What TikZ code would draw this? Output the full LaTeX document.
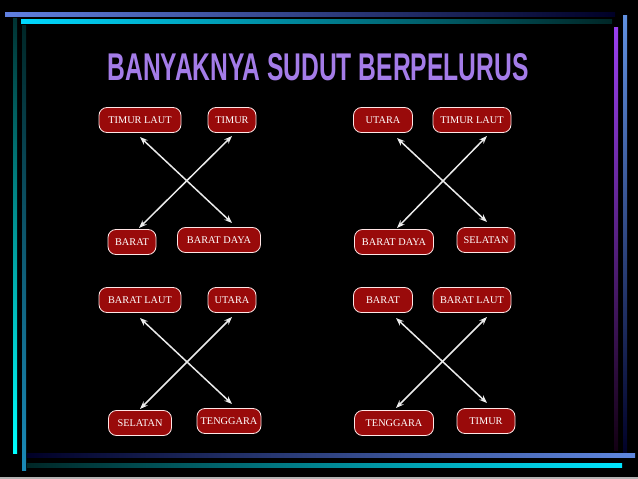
\documentclass[tikz,border=0pt]{standalone}
\usepackage{fontspec}
\usepackage{graphicx}
\setmainfont{Liberation Serif}
\newfontfamily\titlefont{Liberation Sans}
\usetikzlibrary{arrows.meta}
\definecolor{boxred}{HTML}{990A0A}
\definecolor{titlepurple}{HTML}{A47CE8}
\definecolor{topblue}{HTML}{6080E0}
\definecolor{leftblue}{HTML}{1A8AB8}
\definecolor{rightblue}{HTML}{6090E0}
\definecolor{rightpurple}{HTML}{9A40F0}
\definecolor{botblue}{HTML}{6088E0}
\tikzset{
  dirbox/.style={draw=white!90!red, line width=0.8pt, fill=boxred, rounded corners=8pt,
    text=white, font=\fontsize{10.3}{12}\selectfont, minimum height=25pt, inner xsep=3pt, inner ysep=0pt},
  dirarrow/.style={draw=white!92!black, line width=1.5pt,
    {Stealth[length=8pt,width=6pt]}-{Stealth[length=8pt,width=6pt]}},
}
\begin{document}
\begin{tikzpicture}[x=1pt,y=-1pt]
\useasboundingbox (0,0) rectangle (638,479);
\fill[black] (0,0) rectangle (638,479);
\fill[gray!60] (0,476.5) rectangle (638,479);
% frame lines
\shade[left color=topblue, right color=black!85!blue] (5,12) rectangle (615,16);
\shade[left color=cyan!85!blue, right color=black!85!cyan] (21,19) rectangle (612,23);
\shade[top color=black!80!cyan, bottom color=cyan] (13,18) rectangle (17,453);
\shade[top color=black!85!cyan, bottom color=leftblue] (22,25) rectangle (26,470);
\shade[top color=rightblue, bottom color=black!85!blue] (623,15) rectangle (627,455);
\shade[top color=rightpurple, bottom color=black!85!violet] (614,27) rectangle (618,450);
\shade[left color=black!85!blue, right color=botblue] (27,453) rectangle (635,457);
\shade[left color=black!85!cyan, right color=cyan!90!blue] (27,463) rectangle (622,467);
% title
\node[text=titlepurple, inner sep=0pt] (title) at (318,67)
  {\resizebox{421pt}{27pt}{\titlefont\bfseries BANYAKNYA SUDUT BERPELURUS}};
% panel 1
\node[dirbox, minimum width=82pt] (a1) at (140,120) {TIMUR LAUT};
\node[dirbox, minimum width=48pt] (b1) at (232,120) {TIMUR};
\node[dirbox, minimum width=48pt] (c1) at (132,242) {BARAT};
\node[dirbox, minimum width=83pt] (d1) at (219,240) {BARAT DAYA};
\coordinate (a1e) at (140,137); \coordinate (d1e) at (232,223);
\coordinate (c1e) at (139,228); \coordinate (b1e) at (232,136);
\draw[dirarrow] (a1e) -- (d1e);
\draw[dirarrow] (c1e) -- (b1e);
% panel 2
\node[dirbox, minimum width=59pt] (a2) at (383,120) {UTARA};
\node[dirbox, minimum width=78pt] (b2) at (472,120) {TIMUR LAUT};
\node[dirbox, minimum width=79pt] (c2) at (394,242) {BARAT DAYA};
\node[dirbox, minimum width=58pt] (d2) at (486,240) {SELATAN};
\coordinate (a2e) at (397,138); \coordinate (d2e) at (487,222);
\coordinate (c2e) at (397,228); \coordinate (b2e) at (487,136);
\draw[dirarrow] (a2e) -- (d2e);
\draw[dirarrow] (c2e) -- (b2e);
% panel 3
\node[dirbox, minimum width=82pt] (a3) at (140,300) {BARAT LAUT};
\node[dirbox, minimum width=48pt] (b3) at (232,300) {UTARA};
\node[dirbox, minimum width=63pt] (c3) at (140,423) {SELATAN};
\node[dirbox, minimum width=64pt] (d3) at (229,421) {TENGGARA};
\coordinate (a3e) at (140,318); \coordinate (d3e) at (232,404);
\coordinate (c3e) at (140,409); \coordinate (b3e) at (232,317);
\draw[dirarrow] (a3e) -- (d3e);
\draw[dirarrow] (c3e) -- (b3e);
% panel 4
\node[dirbox, minimum width=59pt] (a4) at (383,300) {BARAT};
\node[dirbox, minimum width=78pt] (b4) at (472,300) {BARAT LAUT};
\node[dirbox, minimum width=79pt] (c4) at (394,423) {TENGGARA};
\node[dirbox, minimum width=58pt] (d4) at (486,421) {TIMUR};
\coordinate (a4e) at (396,318); \coordinate (d4e) at (487,403);
\coordinate (c4e) at (396,408); \coordinate (b4e) at (487,317);
\draw[dirarrow] (a4e) -- (d4e);
\draw[dirarrow] (c4e) -- (b4e);
\end{tikzpicture}
\end{document}
